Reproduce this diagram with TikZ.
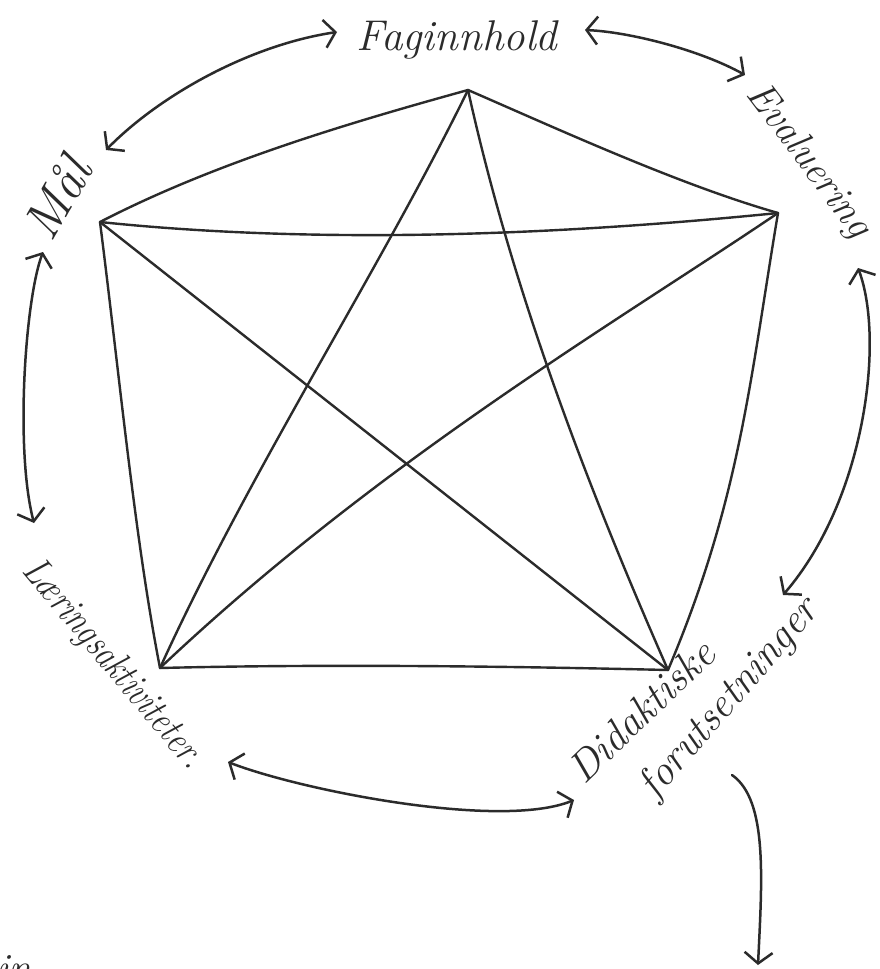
\documentclass[tikz,border=0pt]{standalone}
\usepackage{fontspec}
\usepackage{graphicx}
\usetikzlibrary{arrows.meta}
\definecolor{ink}{HTML}{2B2B2B}
\begin{document}
\begin{tikzpicture}[x=1pt,y=-1pt,
  edge/.style={draw=ink,line width=2.4pt,line cap=round,line join=round},
  link/.style={draw=ink,line width=2.5pt,line cap=round,
    {Straight Barb[length=11pt,width=28pt,line width=2.5pt]}-{Straight Barb[length=11pt,width=28pt,line width=2.5pt]}},
  onehead/.style={draw=ink,line width=2.5pt,line cap=round,
    -{Straight Barb[length=11pt,width=28pt,line width=2.5pt]}},
  lab/.style={text=ink,inner sep=0pt,font=\fontsize{#1}{#1}\selectfont\itshape},
  lab/.default=42]
\useasboundingbox (0,0) rectangle (880,969);
\fill[white] (0,0) rectangle (880,969);
% vertices
\coordinate (T) at (468,90);
\coordinate (R) at (778,213);
\coordinate (L) at (100,222);
\coordinate (BL) at (160,668);
\coordinate (BR) at (668,670);
% pentagon
\draw[edge] (L) .. controls (220,160) and (360,120) .. (T);
\draw[edge] (T) .. controls (560,130) and (680,185) .. (R);
\draw[edge] (L) .. controls (320,245) and (560,235) .. (R);
\draw[edge] (L) .. controls (120,380) and (135,540) .. (BL);
\draw[edge] (R) .. controls (750,380) and (740,500) .. (BR);
\draw[edge] (BL) .. controls (320,664) and (500,666) .. (BR);
% star
\draw[edge] (T) .. controls (380,270) and (250,470) .. (BL);
\draw[edge] (T) .. controls (510,280) and (580,470) .. (BR);
\draw[edge] (L) -- (BR);
\draw[edge] (R) .. controls (620,320) and (380,460) .. (BL);
% labels
\node[lab=43] (fag) at (457,40) {Faginnhold};
\node[lab=40,rotate=-53] (eval) at (808,161) {Evaluering};
\node[lab=52,rotate=60] (mal) at (57,198) {Mål};
\node[lab=40,rotate=-50] (laer) at (113,665) {\scalebox{0.82}[1]{Læringsaktiviteter.}};
\node[lab=42,rotate=44] (did) at (641,711) {Didaktiske};
\node[lab=42,rotate=49] (forut) at (730,699) {forutsetninger};
% arrow end points
\coordinate (a1s) at (106,150);
\coordinate (a1e) at (337,32);
\coordinate (a2s) at (585,30);
\coordinate (a2e) at (745,75);
\coordinate (a3s) at (858,268);
\coordinate (a3e) at (783,595);
\coordinate (a4s) at (228,762);
\coordinate (a4e) at (574,800);
\coordinate (a5s) at (43,252);
\coordinate (a5e) at (34,523);
\coordinate (a6s) at (732,775);
\coordinate (a6e) at (758,965);
\draw[link] (a1s) .. controls (160,95) and (250,45) .. (a1e);
\draw[link] (a2s) .. controls (630,32) and (700,50) .. (a2e);
\draw[link] (a3s) .. controls (885,340) and (865,500) .. (a3e);
\draw[link] (a4s) .. controls (300,790) and (500,830) .. (a4e);
\draw[link] (a5s) .. controls (25,300) and (15,450) .. (a5e);
\draw[onehead] (a6s) .. controls (768,800) and (762,880) .. (a6e);
% cut-off fragment
\begin{scope}
\clip (0,0) rectangle (880,969);
\node[lab=40,anchor=base west] (frag) at (-3,981) {in};
\end{scope}
\end{tikzpicture}
\end{document}
